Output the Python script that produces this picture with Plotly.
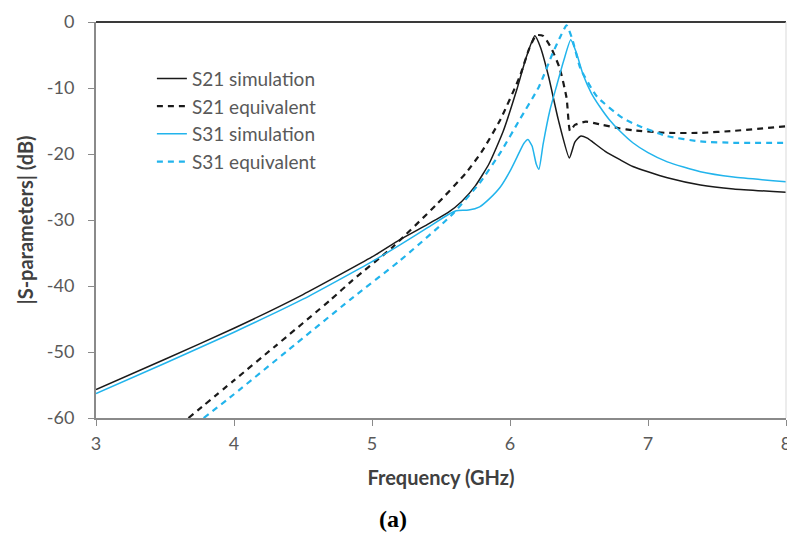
import plotly.graph_objects as go

# ---- data ----
s21_sim_x = [3.0, 3.5, 4.0, 4.5, 5.0, 5.2, 5.4, 5.55, 5.65, 5.75, 5.85, 5.95, 6.05, 6.12, 6.18,
             6.22, 6.28, 6.35, 6.43, 6.47, 6.51, 6.56, 6.6, 6.69, 6.8, 6.89, 7.0, 7.14, 7.38, 7.62, 8.0]
s21_sim_y = [-55.7, -51.1, -46.4, -41.3, -35.6, -33.0, -30.7, -28.9, -27.2, -24.8, -21.4, -16.6, -10.2, -5.2, -2.1,
             -3.8, -8.3, -14.8, -20.6, -18.2, -17.3, -17.6, -18.2, -19.6, -20.9, -21.9, -22.7, -23.6, -24.7, -25.3, -25.8]

s21_eq_x = [3.67, 4.0, 4.3, 4.7, 4.86, 5.15, 5.47, 5.68, 5.8, 5.93, 6.07, 6.14, 6.19, 6.24, 6.30,
            6.36, 6.41, 6.435, 6.47, 6.55, 6.67, 6.79, 6.89, 7.14, 7.38, 7.62, 8.0]
s21_eq_y = [-60.0, -54.3, -49.1, -42.1, -39.1, -34.1, -27.6, -22.9, -19.5, -14.8, -8.3, -4.0, -2.0, -2.1, -4.0,
            -7.0, -11.5, -16.5, -15.6, -15.1, -15.6, -16.1, -16.4, -16.8, -16.8, -16.5, -15.8]

s31_sim_x = [3.0, 3.5, 4.0, 4.5, 5.0, 5.2, 5.4, 5.55, 5.61, 5.70, 5.78, 5.85, 5.93, 6.0, 6.05,
             6.10, 6.13, 6.16, 6.19, 6.21, 6.24, 6.29, 6.34, 6.39, 6.44, 6.48, 6.53, 6.59, 6.65,
             6.72, 6.8, 6.89, 7.0, 7.14, 7.38, 7.62, 8.0]
s31_sim_y = [-56.3, -51.7, -47.0, -42.0, -36.3, -33.8, -31.2, -29.2, -28.6, -28.5, -28.0, -26.8, -25.0, -22.6, -20.5,
             -18.4, -17.8, -18.8, -21.5, -22.3, -18.5, -13.3, -9.5, -5.8, -2.7, -4.6, -8.0, -10.8, -12.8,
             -14.8, -16.6, -18.3, -19.8, -21.2, -22.7, -23.5, -24.2]

s31_eq_x = [3.78, 4.0, 4.4, 4.84, 5.2, 5.57, 5.78, 5.93, 6.07, 6.21, 6.31, 6.37, 6.41, 6.45,
            6.51, 6.63, 6.82, 6.94, 7.14, 7.38, 7.62, 8.0]
s31_eq_y = [-60.0, -56.4, -49.6, -42.1, -36.2, -29.4, -24.4, -19.8, -14.8, -9.8, -4.7, -2.0, -0.5, -2.5,
            -7.0, -11.3, -14.6, -15.8, -17.3, -18.1, -18.3, -18.3]

x_ticks = [3, 4, 5, 6, 7, 8]
y_ticks = [0, -10, -20, -30, -40, -50, -60]
y_tick_text = ["0", "-10", "-20", "-30", "-40", "-50", "-60"]

BLACK = "#1a1a1a"
BLUE = "#22b4ec"
GRAY_TXT = "#595959"
FONT = "Lato"
SMOOTH = 0.5

fig = go.Figure()
fig.add_trace(go.Scatter(x=s21_sim_x, y=s21_sim_y, mode="lines", name="S21 simulation",
                         line=dict(color=BLACK, width=1.5, shape="spline", smoothing=SMOOTH)))
fig.add_trace(go.Scatter(x=s21_eq_x, y=s21_eq_y, mode="lines", name="S21 equivalent",
                         line=dict(color=BLACK, width=2.2, dash="6px,5px", shape="spline", smoothing=SMOOTH)))
fig.add_trace(go.Scatter(x=s31_sim_x, y=s31_sim_y, mode="lines", name="S31 simulation",
                         line=dict(color=BLUE, width=1.5, shape="spline", smoothing=SMOOTH)))
fig.add_trace(go.Scatter(x=s31_eq_x, y=s31_eq_y, mode="lines", name="S31 equivalent",
                         line=dict(color=BLUE, width=2.2, dash="6px,5px", shape="spline", smoothing=SMOOTH)))

fig.update_layout(
    width=787, height=541,
    margin=dict(l=96, r=1, t=22, b=123, autoexpand=False),
    paper_bgcolor="white", plot_bgcolor="white",
    font=dict(family=FONT, size=18, color=GRAY_TXT),
    showlegend=True,
    legend=dict(x=0.081, y=0.905, xanchor="left", yanchor="top",
                bgcolor="rgba(0,0,0,0)", font=dict(size=19, color=GRAY_TXT),
                tracegroupgap=0),
    xaxis=dict(range=[3, 8], tickvals=x_ticks, showgrid=False, zeroline=False,
               automargin=False,
               showline=True, linecolor="#8a8a8a", linewidth=2,
               ticks="outside", ticklen=6, tickcolor="#8a8a8a", tickwidth=1,
               ticklabeloverflow="allow", ticklabelstandoff=2,
               tickfont=dict(size=18, color=GRAY_TXT),
               title=dict(text="Frequency (GHz)", standoff=18,
                          font=dict(size=20, color="#404040", weight="bold"))),
    yaxis=dict(range=[-60, 0], tickvals=y_ticks, ticktext=y_tick_text, showgrid=False,
               zeroline=True, zerolinecolor="#3a3a3a", zerolinewidth=2,
               automargin=False,
               showline=True, linecolor="#8a8a8a", linewidth=2,
               ticks="outside", ticklen=6, tickcolor="#8a8a8a", tickwidth=1,
               ticklabelstandoff=10,
               tickfont=dict(size=18, color=GRAY_TXT),
               title=dict(text="|S-parameters| (dB)", standoff=8,
                          font=dict(size=20, color="#404040", weight="bold"))),
    shapes=[dict(type="line", xref="paper", yref="paper", x0=1, x1=1, y0=0, y1=1,
                 line=dict(color="#d9d9d9", width=1))],
    annotations=[dict(text="<b>(a)</b>", xref="paper", yref="paper", x=0.43, y=-0.255,
                      xanchor="center", yanchor="middle", showarrow=False,
                      font=dict(family="Liberation Serif", size=24, color="black"))],
)

fig.write_html("out.html")
